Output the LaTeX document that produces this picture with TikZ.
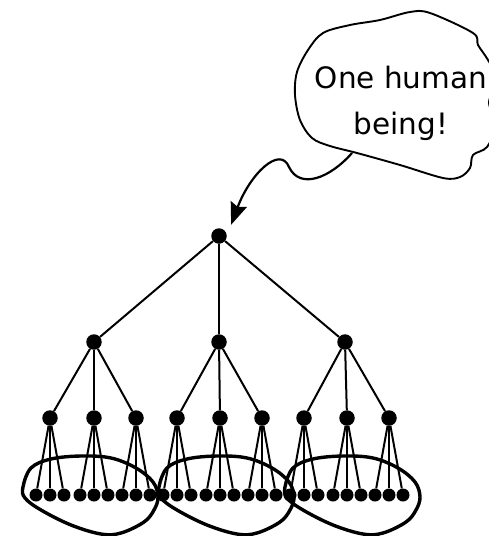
\documentclass[tikz,border=0pt]{standalone}
\usepackage{fontspec}
\setmainfont{DejaVu Sans}
\usetikzlibrary{arrows.meta}

\begin{document}
\begin{tikzpicture}[x=1pt, y=-1pt,
    vertex/.style={circle, fill, inner sep=0pt, minimum size=15.5pt},
    leaf/.style={circle, fill, inner sep=0pt, minimum size=13pt},
    edge/.style={line width=2pt},
    blob/.style={line width=3.4pt},
    bubble/.style={line width=1.9pt},
    pointer/.style={-{Stealth[length=22pt, width=17pt, inset=3pt]}, line width=2.2pt, shorten >=12pt}
]
\clip (0,0) rectangle (489,536);

% speech bubble
\draw[bubble] plot[smooth cycle, tension=0.55] coordinates {
    (323,33) (350,25) (380,20) (410,12) (430,13) (473,33) (478,45) (488,60)
    (498,80) (489,102) (496,125) (487,147) (473,155) (470,168) (460,177)
    (443,178) (400,165) (357,153) (330,146) (312,138) (300,120) (295,95)
    (297,72) (308,50)};
\coordinate (tailstart) at (352,153);
\node[align=center, inner sep=0pt, font={\fontsize{29.5}{46}\selectfont}] (words) at (401,103) {One human\\being!};

% the tree
\node[vertex] (root) at (219,236) {};
\foreach \i/\x in {1/94, 2/219, 3/345} {
    \node[vertex] (m\i) at (\x,342) {};
    \draw[edge] (root) -- (m\i);
}
\foreach \i/\j/\x in {1/1/50, 1/2/94, 1/3/136, 2/1/177, 2/2/220, 2/3/262, 3/1/304, 3/2/347, 3/3/389} {
    \node[vertex] (s\i\j) at (\x,418) {};
    \draw[edge] (m\i) -- (s\i\j);
    \foreach \k/\dx in {1/-14, 2/0, 3/14} {
        \node[leaf] (l\i\j\k) at ({\x+\dx},495) {};
        \draw[edge] (s\i\j) -- (l\i\j\k);
    }
}

% the three loops
\foreach \cx in {89, 225, 351} {
    \draw[blob, shift={(\cx,495)}] plot[smooth cycle, tension=0.6] coordinates {
        (-66,-8) (-58,-27) (-38,-36) (-8,-39) (22,-37) (47,-27) (64,-13) (69,2)
        (65,15) (55,27) (32,38) (12,39) (-18,30) (-48,15) (-64,3)};
}

\draw[pointer] (tailstart) .. controls (330,178) and (300,190) .. (289,167)
    .. controls (280,145) and (250,174) .. (root.east);
\end{tikzpicture}
\end{document}
